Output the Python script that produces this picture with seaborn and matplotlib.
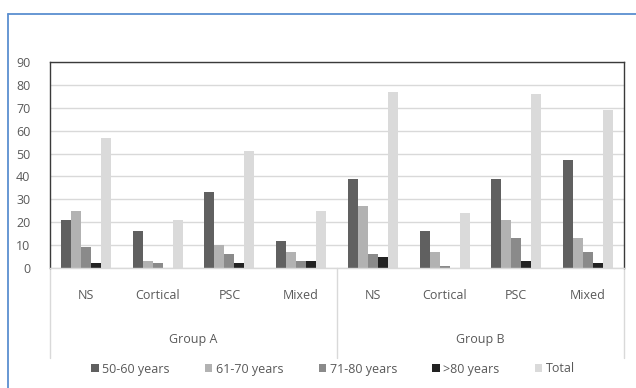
import matplotlib
matplotlib.use("Agg")
import matplotlib.pyplot as plt
from matplotlib.lines import Line2D
from matplotlib.patches import Patch
import seaborn as sns
import pandas as pd

groups = ["Group A", "Group B"]
categories = ["NS", "Cortical", "PSC", "Mixed"]
series = ["50-60 years", "61-70 years", "71-80 years", ">80 years", "Total"]
vals_50_60 = [21, 16, 33, 12, 39, 16, 39, 47]
vals_61_70 = [25, 3, 10, 7, 27, 7, 21, 13]
vals_71_80 = [9, 2, 6, 3, 6, 1, 13, 7]
vals_80p = [2, 0, 2, 3, 5, 0, 3, 2]
vals_total = [57, 21, 51, 25, 77, 24, 76, 69]
colors = ["#606060", "#b2b2b2", "#8a8a8a", "#222222", "#dadada"]

slots = [f"{g}|{c}" for g in groups for c in categories]
rows = []
for name, vals in zip(series, [vals_50_60, vals_61_70, vals_71_80, vals_80p, vals_total]):
    for s, v in zip(slots, vals):
        rows.append({"slot": s, "series": name, "value": v})
df = pd.DataFrame(rows)

sns.set_style("white")
plt.rcParams["font.family"] = ["Open Sans", "DejaVu Sans"]
fs = 9
tc = "#595959"

fig = plt.figure(figsize=(6.36, 3.88), dpi=100)
ax = fig.add_axes([50 / 636, 1 - 268 / 388, 574 / 636, 206 / 388])
sns.barplot(data=df, x="slot", y="value", hue="series", order=slots,
            hue_order=series, palette=colors, width=0.7, saturation=1,
            linewidth=0, legend=False, ax=ax)

ax.set_ylim(0, 90)
ax.set_yticks(range(0, 91, 10))
ax.set_xlim(-0.5, len(slots) - 0.5)
ax.yaxis.grid(True, color="#d9d9d9", linewidth=1)
ax.set_axisbelow(True)
ax.set_xlabel("")
ax.set_ylabel("")
ax.tick_params(axis="y", length=0, pad=14, labelsize=fs, labelcolor=tc)
ax.tick_params(axis="x", length=0, pad=15, labelsize=fs, labelcolor=tc)
ax.set_xticks(range(len(slots)))
ax.set_xticklabels(categories * 2)
for side in ["left", "top", "right"]:
    ax.spines[side].set_color("#3a3a3a")
    ax.spines[side].set_linewidth(1)
ax.spines["bottom"].set_color("#d9d9d9")
ax.spines["bottom"].set_linewidth(1)

trans = ax.get_xaxis_transform()
for xpos in [-0.5, 3.5, 7.5]:
    ax.add_line(Line2D([xpos, xpos], [0, -90 / 206], transform=trans,
                       color="#d9d9d9", linewidth=1, clip_on=False))
for i, g in enumerate(groups):
    ax.text(1.5 + 4 * i, -72 / 206, g, transform=trans, ha="center", va="center",
            fontsize=fs, color=tc)

handles = [Patch(facecolor=c, edgecolor="none", label=s) for s, c in zip(series, colors)]
fig.legend(handles=handles, loc="center", bbox_to_anchor=(333 / 636, 1 - 369 / 388),
           ncol=5, frameon=False, fontsize=fs, handlelength=0.6, handleheight=0.6,
           handletextpad=0.3, columnspacing=2.8, labelcolor=tc)

blue = "#5b8fd0"
fig.add_artist(Line2D([8 / 636, 1], [1 - 14 / 388, 1 - 14 / 388], color=blue, linewidth=1.3))
fig.add_artist(Line2D([8 / 636, 8 / 636], [0, 1 - 14 / 388], color=blue, linewidth=1.3))

fig.savefig("out.png", dpi=100, facecolor="white")
